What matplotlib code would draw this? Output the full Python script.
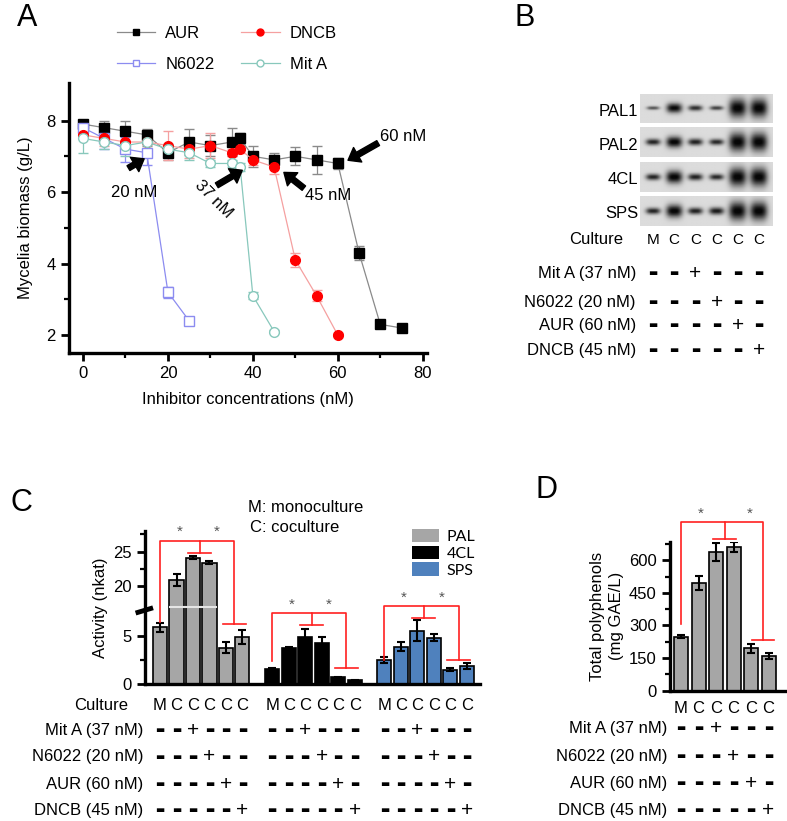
import numpy as np
import matplotlib
matplotlib.use('Agg')
import matplotlib.pyplot as plt
from matplotlib import transforms
from matplotlib.patches import Patch
from matplotlib.lines import Line2D
from matplotlib.ticker import NullFormatter

plt.rcParams['font.family'] = ['Liberation Sans', 'DejaVu Sans']
plt.rcParams['font.size'] = 12

W, H = 787, 821

# ---------------- panel A data (mycelia biomass vs inhibitor conc.)
conc_aur = [0, 5, 10, 15, 20, 25, 30, 35, 37, 40, 45, 50, 55, 60, 65, 70, 75]
bio_aur = [7.9, 7.8, 7.7, 7.6, 7.1, 7.4, 7.3, 7.4, 7.5, 7.0, 6.9, 7.0, 6.9, 6.8, 4.3, 2.3, 2.2]
err_aur = [0.05, 0.2, 0.3, 0.15, 0.2, 0.35, 0.3, 0.4, 0.15, 0.3, 0.2, 0.25, 0.4, 0.15, 0.2, 0.05, 0.05]
conc_dncb = [0, 5, 10, 15, 20, 25, 30, 35, 37, 40, 45, 50, 55, 60]
bio_dncb = [7.6, 7.5, 7.4, 7.4, 7.3, 7.2, 7.3, 7.1, 7.2, 6.9, 6.7, 4.1, 3.1, 2.0]
err_dncb = [0.1, 0.2, 0.2, 0.1, 0.4, 0.25, 0.35, 0.1, 0.1, 0.15, 0.2, 0.2, 0.15, 0.05]
conc_n6022 = [0, 5, 10, 15, 20, 25]
bio_n6022 = [7.8, 7.5, 7.2, 7.1, 3.2, 2.4]
err_n6022 = [0.1, 0.3, 0.35, 0.35, 0.15, 0.1]
conc_mita = [0, 5, 10, 15, 20, 25, 30, 35, 37, 40, 45]
bio_mita = [7.5, 7.4, 7.3, 7.4, 7.2, 7.1, 6.8, 6.8, 6.7, 3.1, 2.1]
err_mita = [0.4, 0.2, 0.3, 0.1, 0.15, 0.2, 0.1, 0.1, 0.1, 0.1, 0.05]

# ---------------- panel B data (band intensity, 0..1)
blot_rows = ['PAL1', 'PAL2', '4CL', 'SPS']
band_pal1 = [0.35, 0.75, 0.55, 0.45, 1.0, 1.0]
band_pal2 = [0.6, 0.8, 0.62, 0.58, 1.0, 1.0]
band_4cl = [0.6, 0.85, 0.62, 0.58, 1.0, 1.0]
band_sps = [0.6, 0.85, 0.62, 0.65, 1.0, 1.0]

# ---------------- shared treatment table
cultures = ['M', 'C', 'C', 'C', 'C', 'C']
treatments = ['Mit A (37 nM)', 'N6022 (20 nM)', 'AUR (60 nM)', 'DNCB (45 nM)']
treat_idx = [-1, -1, 0, 1, 2, 3]

# ---------------- panel C data (enzyme activity, nkat)
enzymes = ['PAL', '4CL', 'SPS']
enz_colors = ['#a6a6a6', '#000000', '#4f81bd']
pal_act = [5.9, 20.9, 24.1, 23.4, 3.8, 4.9]
pal_err = [0.45, 0.9, 0.25, 0.2, 0.6, 0.75]
cl4_act = [1.6, 3.75, 4.95, 4.3, 0.7, 0.4]
cl4_err = [0.1, 0.1, 0.75, 0.6, 0.08, 0.05]
sps_act = [2.5, 3.9, 5.55, 4.85, 1.5, 1.9]
sps_err = [0.28, 0.45, 1.1, 0.33, 0.15, 0.3]
# significance bracket heights: left foot, top, middle cap, right cap
sig_pal = [6.45, 26.6, 24.8, 6.3]
sig_4cl = [2.4, 7.4, 6.2, 1.7]
sig_sps = [2.5, 11.1, 6.9, 2.5]

# ---------------- panel D data (total polyphenols)
poly = [249, 496, 639, 660, 194, 159]
poly_err = [8, 31, 42, 23, 19, 15]
sig_d = [307, 778, 701, 234]

fig = plt.figure(figsize=(W / 100, H / 100), dpi=100)


def fx(px):
    return px / W


def fy(py):
    return 1 - py / H


def add_ax(l, t, r, b):
    return fig.add_axes([fx(l), fy(b), (r - l) / W, (b - t) / H])


def style(ax):
    for s in ['top', 'right']:
        ax.spines[s].set_visible(False)
    for s in ['left', 'bottom']:
        ax.spines[s].set_linewidth(2.4)
    ax.tick_params(which='major', length=6, width=2, labelsize=12)
    ax.tick_params(which='minor', length=3.5, width=1.6)


def panel_letter(x, y, s):
    fig.text(fx(x), fy(y), s, fontsize=22, ha='center', va='center')


def sign(ax, x, y, on, tr):
    # '+' for treated, short thick bar for untreated
    if on:
        ax.text(x, y, '+', transform=tr, ha='center', va='center', fontsize=15)
    else:
        ax.text(x, y, '\u25ac', transform=tr, ha='center', va='center', fontsize=7,
                family='DejaVu Sans')


# ================= A
axA = add_ax(69, 83, 427, 353)
style(axA)
series = [
    (conc_aur, bio_aur, err_aur, '#8a8a8a', 's', 'black', 'black', 'AUR'),
    (conc_n6022, bio_n6022, err_n6022, '#8c8cf0', 's', 'white', '#8c8cf0', 'N6022'),
    (conc_dncb, bio_dncb, err_dncb, '#f5a0a0', 'o', 'red', 'red', 'DNCB'),
    (conc_mita, bio_mita, err_mita, '#88c8bc', 'o', 'white', '#88c8bc', 'Mit A'),
]
handles = []
for xs, ys, es, lc, m, fc, ec, lab in series:
    axA.errorbar(xs, ys, yerr=es, color=lc, lw=0.9, marker=m, ms=7, mfc=fc, mec=ec,
                 mew=1.0, ecolor=lc, elinewidth=0.9, capsize=3.5, capthick=0.9)
    handles.append(Line2D([], [], color=lc, lw=0.9, marker=m, ms=5, mfc=fc, mec=ec, mew=1.0))
axA.set_xlim(-3.3, 81)
axA.set_ylim(1.5, 9.05)
axA.set_xticks([0, 20, 40, 60, 80])
axA.set_xticks([10, 30, 50, 70], minor=True)
axA.set_yticks([2, 4, 6, 8])
axA.set_yticks([3, 5, 7], minor=True)
axA.set_xlabel('Inhibitor concentrations (nM)', fontsize=12, labelpad=8)
axA.set_ylabel('Mycelia biomass (g/L)', fontsize=12, labelpad=10)
fig.legend(handles, [h[-1] for h in series], ncol=2, loc='upper left',
           bbox_to_anchor=(fx(117), fy(26)), frameon=False, handlelength=2.3,
           handletextpad=0.6, columnspacing=1.6, labelspacing=0.95, borderpad=0,
           borderaxespad=0, fontsize=12)

arrow_kw = dict(facecolor='black', edgecolor='black', width=4, headwidth=12, headlength=8, shrink=0)
axA.annotate('', xy=(62.4, 6.89), xytext=(69.5, 7.37), arrowprops=arrow_kw)
axA.text(70, 7.56, '60 nM', ha='left', va='center', fontsize=12)
axA.annotate('', xy=(14.4, 6.93), xytext=(10.7, 6.67), arrowprops=arrow_kw)
axA.text(12.1, 6.0, '20 nM', ha='center', va='center', fontsize=12)
axA.annotate('', xy=(37.5, 6.61), xytext=(31.5, 6.19), arrowprops=arrow_kw)
axA.text(30.7, 5.79, '37 nM', ha='center', va='center', fontsize=12, rotation=-45)
axA.annotate('', xy=(47.3, 6.55), xytext=(52, 6.11), arrowprops=arrow_kw)
axA.text(57.7, 5.9, '45 nM', ha='center', va='center', fontsize=12)
panel_letter(27, 18, 'A')

# ================= B
axB = add_ax(640, 94, 773, 227)
axB.set_xlim(-0.61, 5.66)
axB.set_ylim(3.88, 0)
axB.axis('off')
bx = np.linspace(-0.61, 5.66, 240)
by = np.linspace(0, 1, 50)
BX, BY = np.meshgrid(bx, by)
for r, bands in enumerate([band_pal1, band_pal2, band_4cl, band_sps]):
    img = np.full(BX.shape, 0.86)
    for i, a in enumerate(bands):
        sx = 0.24 + 0.17 * a
        sy = 0.05 + 0.26 * a ** 3
        g = np.exp(-np.abs((BX - i) / sx) ** 3 - ((BY - 0.5) / sy) ** 2)
        img -= 0.86 * min(1.0, 0.3 + 0.9 * a) * g
    img = np.clip(img, 0.03, 1)
    axB.imshow(img, cmap='gray', vmin=0, vmax=1, extent=(-0.61, 5.66, r + 0.85, r),
               aspect='auto', interpolation='bilinear')
    axB.text(-0.7, r + 0.5, blot_rows[r], ha='right', va='center', fontsize=12)
trB = transforms.blended_transform_factory(axB.transData, fig.transFigure)
fig.text(fx(623), fy(240), 'Culture', ha='right', va='center', fontsize=12)
for i, c in enumerate(cultures):
    axB.text(i, fy(240), c, transform=trB, ha='center', va='center', fontsize=11)
for r, (name, yy) in enumerate(zip(treatments, [273, 302, 325, 350])):
    fig.text(fx(636), fy(yy), name, ha='right', va='center', fontsize=12)
    for i in range(len(cultures)):
        sign(axB, i, fy(yy), treat_idx[i] == r, trB)
panel_letter(525, 18, 'B')

# ================= C
B1, B2, GAP, S = 8.0, 17.3, 0.3, 0.716


def fwd(v):
    v = np.asarray(v, float)
    return np.where(v <= B1, v, np.where(v < B2, B1 + (v - B1) * GAP / (B2 - B1),
                                         B1 + GAP + (v - B2) * S))


def inv(t):
    t = np.asarray(t, float)
    return np.where(t <= B1, t, np.where(t < B1 + GAP, B1 + (t - B1) * (B2 - B1) / GAP,
                                         B2 + (t - B1 - GAP) / S))


axC = add_ax(145, 531, 480, 684)
style(axC)
axC.set_yscale('function', functions=(fwd, inv))
axC.set_ylim(0, 28)
axC.set_xlim(-0.91, 19.4)
group_off = 6.8
all_act = [pal_act, cl4_act, sps_act]
all_err = [pal_err, cl4_err, sps_err]
all_sig = [sig_pal, sig_4cl, sig_sps]
for g in range(3):
    xs = np.arange(6) + g * group_off
    axC.bar(xs, all_act[g], width=0.85, color=enz_colors[g], edgecolor='black', lw=1.2, zorder=2)
    axC.errorbar(xs, all_act[g], yerr=all_err[g], fmt='none', ecolor='black', elinewidth=1.5,
                 capsize=3, capthick=1.5, zorder=3)
    lf, top, cap1, cap2 = all_sig[g]
    x0 = xs[0]
    xm = x0 + 2.4
    xr = x0 + 4.5
    kw = dict(color='#ff2020', lw=1.2, zorder=4, clip_on=False)
    axC.plot([x0, x0, xm, xm], [lf, top, top, cap1], **kw)
    axC.plot([xm - 0.7, xm + 0.7], [cap1, cap1], **kw)
    axC.plot([xm, xr, xr], [top, top, cap2], **kw)
    axC.plot([xr - 0.7, xr + 0.7], [cap2, cap2], **kw)
    for sx in [(x0 + xm) / 2, (xm + xr) / 2]:
        axC.annotate('*', (sx, top), xytext=(0, 1), textcoords='offset points', ha='center',
                     va='bottom', color='#555555', fontsize=11, annotation_clip=False)
# white break line across tall PAL bars
axC.hlines(9.0, 0.55, 3.45, color='#e6e6e6', lw=1.5, zorder=2.5)
brk = transforms.blended_transform_factory(axC.transAxes, axC.transData)
axC.plot([-0.028, 0.024], [7.4, 7.95], color='black', lw=3.5, transform=brk, clip_on=False,
         solid_capstyle='butt')
axC.set_yticks([0, 5, 20, 25])
axC.set_yticks([2.5, 22.5, 27.5], minor=True)
axC.yaxis.set_minor_formatter(NullFormatter())
axC.set_xticks([])
axC.set_ylabel('Activity (nkat)', fontsize=12, labelpad=4)
fig.text(fx(248), fy(508), 'M: monoculture', ha='left', va='center', fontsize=12)
fig.text(fx(250), fy(528), 'C: coculture', ha='left', va='center', fontsize=12)
fig.legend([Patch(facecolor=c, edgecolor='none') for c in enz_colors], enzymes,
           loc='upper left', bbox_to_anchor=(fx(412), fy(529)), frameon=False,
           handlelength=1.7, handleheight=0.9, labelspacing=0.1, handletextpad=0.45,
           borderpad=0, borderaxespad=0, prop={'family': 'Lato', 'size': 11.5})
trC = transforms.blended_transform_factory(axC.transData, fig.transFigure)
fig.text(fx(128), fy(706), 'Culture', ha='right', va='center', fontsize=12)
rows_c = [730, 757, 784, 810]
for g in range(3):
    for i, c in enumerate(cultures):
        x = i + g * group_off
        axC.text(x, fy(706), c, transform=trC, ha='center', va='center', fontsize=12)
        for r, yy in enumerate(rows_c):
            sign(axC, x, fy(yy), treat_idx[i] == r, trC)
for name, yy in zip(treatments, rows_c):
    fig.text(fx(143), fy(yy), name, ha='right', va='center', fontsize=12)
panel_letter(21, 503, 'C')

# ================= D
axD = add_ax(670, 542, 786, 690.5)
style(axD)
xd = np.arange(6)
axD.bar(xd, poly, width=0.8, color='#a6a6a6', edgecolor='black', lw=1.2, zorder=2)
axD.errorbar(xd, poly, yerr=poly_err, fmt='none', ecolor='black', elinewidth=1.5,
             capsize=3, capthick=1.5, zorder=3)
axD.set_xlim(-0.63, 6.0)
axD.set_ylim(0, 685)
axD.set_yticks([0, 150, 300, 450, 600])
axD.set_yticks([75, 225, 375, 525, 675], minor=True)
axD.set_xticks([])
lf, top, cap1, cap2 = sig_d
kw = dict(color='#ff2020', lw=1.2, zorder=4, clip_on=False)
axD.plot([0, 0, 2.5, 2.5], [lf, top, top, cap1], **kw)
axD.plot([1.85, 3.15], [cap1, cap1], **kw)
axD.plot([2.5, 4.7, 4.7], [top, top, cap2], **kw)
axD.plot([4.05, 5.3], [cap2, cap2], **kw)
for sx in [1.15, 3.9]:
    axD.annotate('*', (sx, top), xytext=(0, 1), textcoords='offset points', ha='center',
                 va='bottom', color='#555555', fontsize=11, annotation_clip=False)
axD.set_ylabel('Total polyphenols\n(mg GAE/L)', fontsize=12, labelpad=4, linespacing=1.3)
trD = transforms.blended_transform_factory(axD.transData, fig.transFigure)
rows_d = [728, 756, 783, 810]
for i, c in enumerate(cultures):
    axD.text(i, fy(708), c, transform=trD, ha='center', va='center', fontsize=12)
    for r, yy in enumerate(rows_d):
        sign(axD, i, fy(yy), treat_idx[i] == r, trD)
for name, yy in zip(treatments, rows_d):
    fig.text(fx(667), fy(yy), name, ha='right', va='center', fontsize=12)
panel_letter(547, 490, 'D')

fig.savefig('out.png', dpi=100)
